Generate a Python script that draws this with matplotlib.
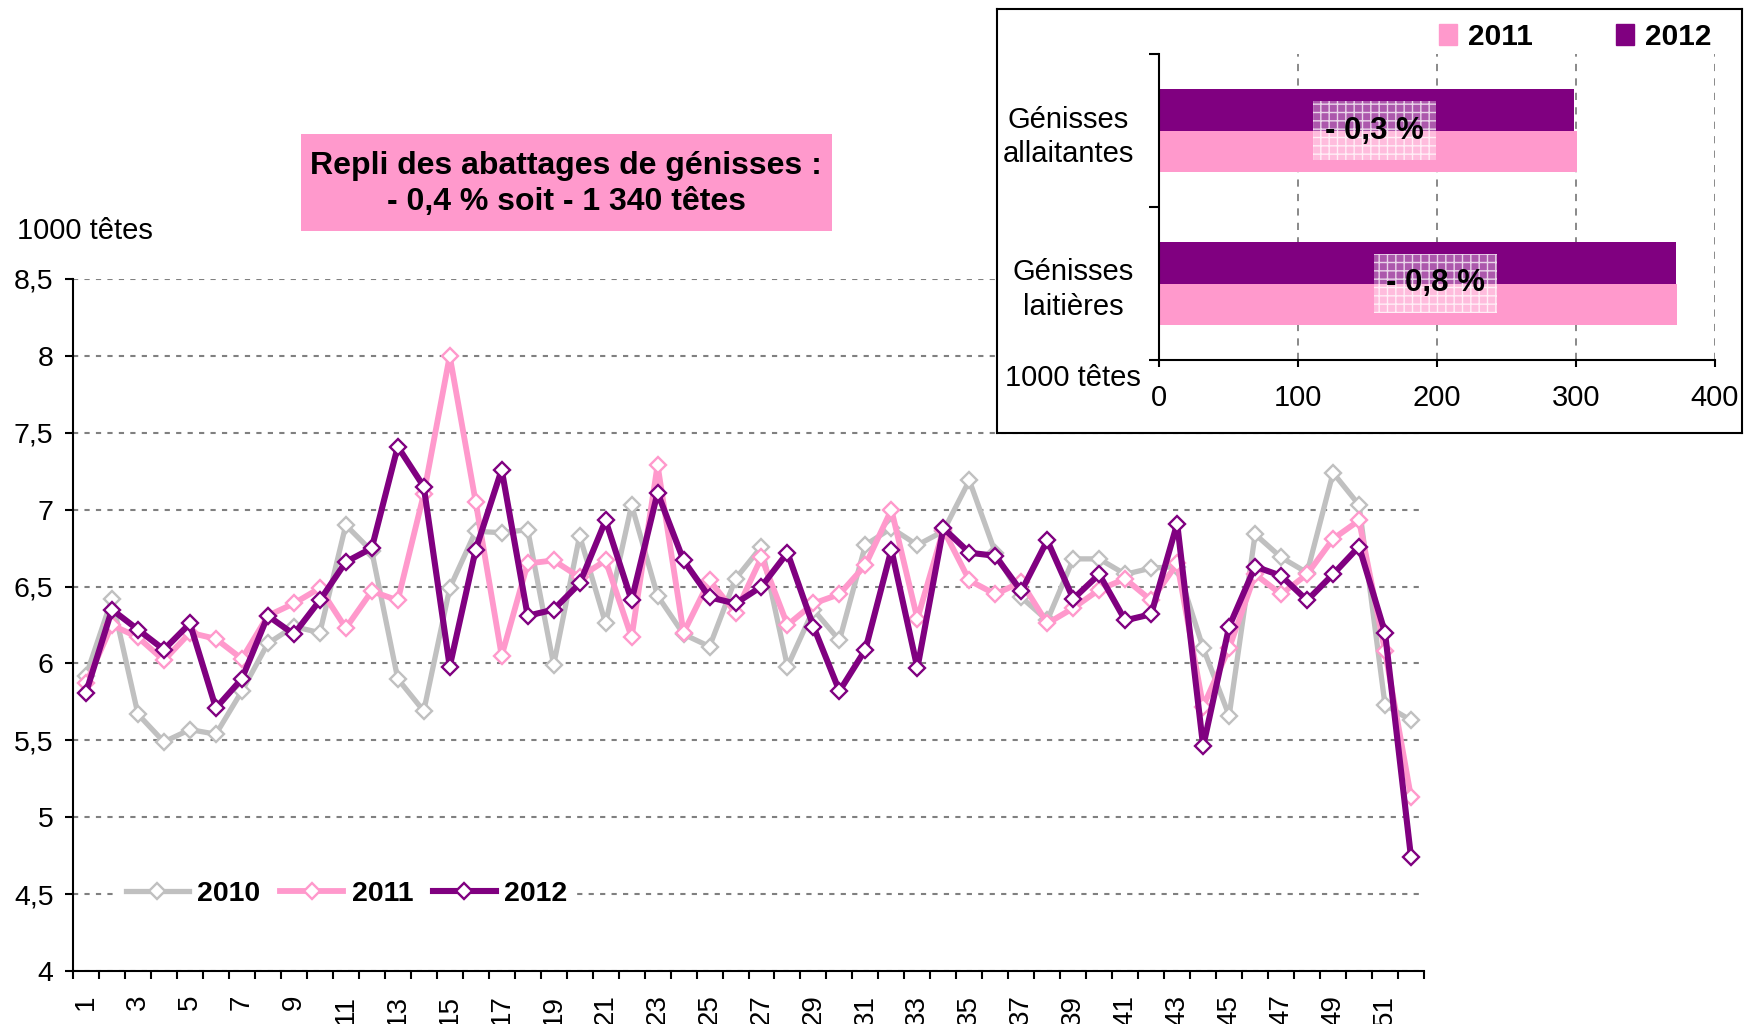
import numpy as np
import matplotlib
matplotlib.use("Agg")
import matplotlib.pyplot as plt
from matplotlib.patches import Patch, Rectangle

plt.rcParams['font.family'] = ['Liberation Sans', 'DejaVu Sans']

# abattages hebdomadaires de génisses (1000 têtes)
semaines = list(range(1, 53))
abat_2010 = [5.92, 6.42, 5.67, 5.49, 5.57, 5.54, 5.82, 6.13, 6.24, 6.20,
             6.90, 6.73, 5.90, 5.69, 6.49, 6.86, 6.85, 6.87, 5.99, 6.83,
             6.26, 7.03, 6.44, 6.19, 6.11, 6.55, 6.76, 5.98, 6.35, 6.15,
             6.77, 6.88, 6.77, 6.86, 7.19, 6.72, 6.43, 6.28, 6.68, 6.68,
             6.58, 6.62, 6.63, 6.10, 5.66, 6.84, 6.69, 6.59, 7.24, 7.03,
             5.73, 5.63]
abat_2011 = [5.87, 6.25, 6.17, 6.02, 6.20, 6.16, 6.03, 6.31, 6.39, 6.49,
             6.23, 6.47, 6.41, 7.10, 8.00, 7.05, 6.05, 6.65, 6.67, 6.56,
             6.67, 6.17, 7.29, 6.20, 6.54, 6.33, 6.69, 6.25, 6.39, 6.45,
             6.64, 7.00, 6.29, 6.87, 6.54, 6.45, 6.53, 6.26, 6.36, 6.48,
             6.55, 6.41, 6.65, 5.72, 6.10, 6.58, 6.45, 6.58, 6.81, 6.93,
             6.08, 5.13]
abat_2012 = [5.81, 6.35, 6.22, 6.09, 6.26, 5.71, 5.90, 6.31, 6.19, 6.41,
             6.66, 6.75, 7.41, 7.15, 5.98, 6.74, 7.26, 6.31, 6.35, 6.52,
             6.93, 6.41, 7.11, 6.67, 6.43, 6.39, 6.50, 6.72, 6.24, 5.82,
             6.09, 6.74, 5.97, 6.88, 6.72, 6.70, 6.47, 6.80, 6.42, 6.58,
             6.28, 6.32, 6.91, 5.46, 6.24, 6.63, 6.57, 6.41, 6.58, 6.76,
             6.20, 4.74]
y_ticks = [4, 4.5, 5, 5.5, 6, 6.5, 7, 7.5, 8, 8.5]
y_labels = ["4", "4,5", "5", "5,5", "6", "6,5", "7", "7,5", "8", "8,5"]

# encart : cumul annuel par type
types = ["Génisses\nlaitières", "Génisses\nallaitantes"]
cumul_2011 = [373, 301]
cumul_2012 = [372, 298.5]
variations = ["- 0,8 %", "- 0,3 %"]

gris = "#C0C0C0"
rose = "#FF99CC"
violet = "#800080"

fig = plt.figure(figsize=(17.51, 10.24), dpi=100)

# ---- graphique principal
ax = fig.add_axes([73/1751, 53/1024, 1351/1751, 692/1024])
series = [(abat_2010, gris, 3.8, "2010"), (abat_2011, rose, 4.2, "2011"), (abat_2012, violet, 4.4, "2012")]
for i, (vals, c, lw, lab) in enumerate(series):
    ax.plot(semaines, vals, color=c, lw=lw, marker="D", ms=8.2, mfc="white",
            mec=c, mew=1.7, zorder=3 + i, label=lab)

ax.set_xlim(0.5, 52.5)
ax.set_ylim(4, 8.5)
ax.set_yticks(y_ticks)
ax.set_yticklabels(y_labels, fontsize=20.5)
ax.set_xticks(semaines[::2])
ax.set_xticklabels([str(s) for s in semaines[::2]], rotation=90, fontsize=20, va="top")
ax.set_xticks(np.arange(0.5, 53, 1), minor=True)
ax.tick_params(axis="x", which="major", length=0, pad=17)
ax.tick_params(axis="x", which="minor", length=6, width=1.5, direction="out")
ax.tick_params(axis="y", length=6, width=1.5, direction="out", pad=8)
ax.yaxis.grid(True, color="#808080", lw=1.5, linestyle=(0, (2.5, 3)))
ax.set_axisbelow(True)
for s in ["top", "right"]:
    ax.spines[s].set_visible(False)
for s in ["left", "bottom"]:
    ax.spines[s].set_linewidth(1.5)

leg = ax.legend(loc="center left", bbox_to_anchor=(0.033, 0.111), ncol=3,
                frameon=True, facecolor="white", edgecolor="none", framealpha=1,
                handlelength=2.2, handletextpad=0.3, columnspacing=0.7,
                borderpad=0.3, borderaxespad=0, prop={"size": 20.5, "weight": "bold"})
leg.set_zorder(10)

fig.text(17/1751, 1 - 231/1024, "1000 têtes", fontsize=21, ha="left", va="center")

# encadré titre
fig.patches.append(Rectangle((301/1751, 1 - 231/1024), 531/1751, 97/1024,
                             transform=fig.transFigure, facecolor=rose, edgecolor="none"))
fig.text(566/1751, 1 - 184/1024, "Repli des abattages de génisses :\n- 0,4 % soit - 1 340 têtes",
         fontsize=23, fontweight="bold", ha="center", va="center", linespacing=1.25)

# ---- encart
cadre = fig.add_axes([997/1751, 1 - 433/1024, 745/1751, 424/1024])
cadre.set_xticks([])
cadre.set_yticks([])
cadre.set_facecolor("white")
for s in cadre.spines.values():
    s.set_linewidth(1.5)

ins = fig.add_axes([1159/1751, 1 - 360/1024, 556/1751, 306/1024])
pos = np.array([0.5, 1.5])
h = 0.274
ins.barh(pos - h/2, cumul_2011, height=h, color=rose, label="2011", zorder=2)
ins.barh(pos + h/2, cumul_2012, height=h, color=violet, label="2012", zorder=2)
ins.set_xlim(0, 400)
ins.set_ylim(0, 2)
ins.set_xticks([0, 100, 200, 300, 400])
ins.tick_params(axis="x", labelsize=21, length=5, width=1.5, pad=12)
ins.set_yticks([0, 1, 2])
ins.set_yticklabels([])
ins.tick_params(axis="y", which="major", length=7, width=1.5)
ins.set_yticks(pos, minor=True)
ins.set_yticklabels(types, minor=True, fontsize=21, multialignment="center", linespacing=1.3)
ins.tick_params(axis="y", which="minor", length=0, pad=18)
ins.xaxis.grid(True, color="#808080", lw=1.3, linestyle=(0, (4, 4)))
ins.set_axisbelow(True)
for s in ["top", "right"]:
    ins.spines[s].set_visible(False)
for s in ["left", "bottom"]:
    ins.spines[s].set_linewidth(1.5)

# étiquettes de variation sur fond quadrillé
plt.rcParams['hatch.linewidth'] = 1.0
centres_x = [199, 155]
for yc, xc, txt in zip(pos, centres_x, variations):
    ins.add_patch(Rectangle((xc - 44, yc - 0.19), 88, 0.38, facecolor=(1, 1, 1, 0.35),
                            edgecolor=(1, 1, 1, 0.75), hatch="++", lw=0, zorder=3))
    ins.text(xc, yc, txt, fontsize=22.5, fontweight="bold",
             ha="center", va="center", zorder=4)

ins.legend(handles=[Patch(color=rose, label="2011"), Patch(color=violet, label="2012")],
           loc="center right", bbox_to_anchor=(1738/1751, 1 - 37/1024),
           bbox_transform=fig.transFigure, ncol=2, frameon=False,
           handlelength=0.6, handleheight=0.7, handletextpad=0.35, columnspacing=2.8,
           prop={"size": 21.5, "weight": "bold"})

fig.text(1141/1751, 1 - 378/1024, "1000 têtes", fontsize=21, ha="right", va="center")

fig.savefig("out.png", dpi=100)
